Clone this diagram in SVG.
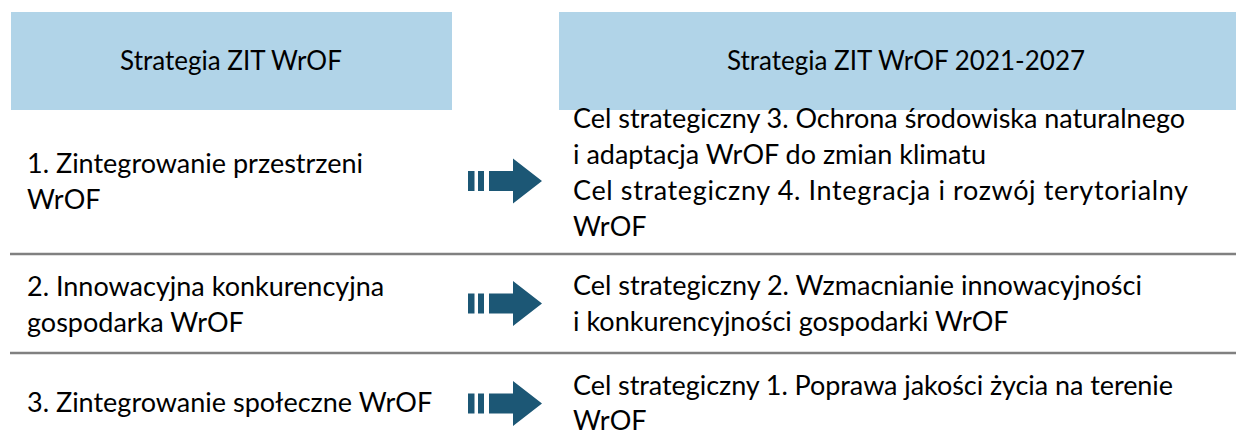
<svg xmlns="http://www.w3.org/2000/svg" width="1236" height="444" viewBox="0 0 1236 444">
<style>
.hdr{fill:#B1D4E8}
.t{font-family:Lato,"Open Sans","Liberation Sans",sans-serif;font-size:27px;fill:#000}
.h{font-size:26px;text-anchor:middle}
.sep{stroke:#808080;stroke-width:2.5;fill:none}
.arr{fill:#1C5775}
</style>
<defs>
<g id="arrow" class="arr">
<rect x="468" y="-10" width="6.5" height="20"/>
<rect x="478" y="-10" width="6" height="20"/>
<polygon points="489,-10 513,-10 513,-22.5 542,0 513,22.5 513,10 489,10"/>
</g>
</defs>
<g id="header-left">
<rect class="hdr" x="11" y="12" width="441" height="98"/>
<text class="t h" x="231" y="70">Strategia ZIT WrOF</text>
</g>
<g id="header-right">
<rect class="hdr" x="559" y="12" width="677" height="98"/>
<text class="t h" x="906" y="70">Strategia ZIT WrOF 2021-2027</text>
</g>
<g id="row1-left">
<text class="t" x="27" y="173">1. Zintegrowanie przestrzeni</text>
<text class="t" x="27" y="209">WrOF</text>
</g>
<g id="row1-right">
<text class="t" x="573" y="128" textLength="612">Cel strategiczny 3. Ochrona środowiska naturalnego</text>
<text class="t" x="573" y="164">i adaptacja WrOF do zmian klimatu</text>
<text class="t" x="573" y="200" textLength="615">Cel strategiczny 4. Integracja i rozwój terytorialny</text>
<text class="t" x="573" y="236">WrOF</text>
</g>
<g id="row2-left">
<text class="t" x="27" y="296">2. Innowacyjna konkurencyjna</text>
<text class="t" x="27" y="332">gospodarka WrOF</text>
</g>
<g id="row2-right">
<text class="t" x="573" y="295">Cel strategiczny 2. Wzmacnianie innowacyjności</text>
<text class="t" x="573" y="331">i konkurencyjności gospodarki WrOF</text>
</g>
<g id="row3-left">
<text class="t" x="27" y="412">3. Zintegrowanie społeczne WrOF</text>
</g>
<g id="row3-right">
<text class="t" x="573" y="395" textLength="600">Cel strategiczny 1. Poprawa jakości życia na terenie</text>
<text class="t" x="573" y="430">WrOF</text>
</g>
<g id="connectors">
<line class="sep" x1="10" y1="254" x2="1236" y2="254"/>
<line class="sep" x1="10" y1="353" x2="1236" y2="353"/>
<use href="#arrow" transform="translate(0,181)"/>
<use href="#arrow" transform="translate(0,303.5)"/>
<use href="#arrow" transform="translate(0,403.5)"/>
</g>
</svg>
